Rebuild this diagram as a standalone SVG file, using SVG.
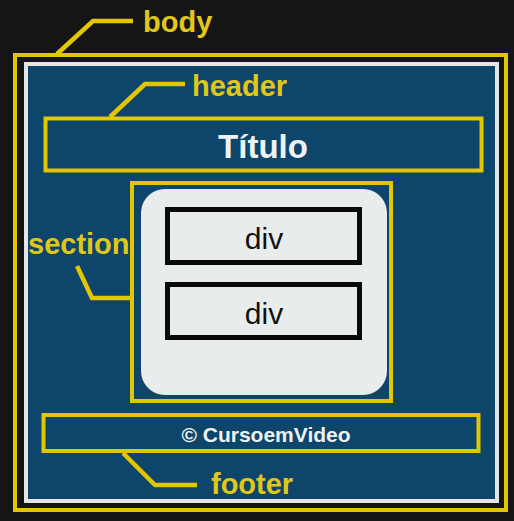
<svg xmlns="http://www.w3.org/2000/svg" width="514" height="521" viewBox="0 0 514 521">
<style>
.y{fill:none;stroke:#e2c700;stroke-width:4}
.lead{fill:none;stroke:#e2c700;stroke-width:4.5;stroke-linejoin:miter}
.lbl{font-family:"Liberation Sans",Arial,sans-serif;font-weight:bold;font-size:29px;fill:#e0c81a}
.w{font-family:"Liberation Sans",Arial,sans-serif;font-weight:bold;fill:#eef2f4;text-anchor:middle}
.dv{font-family:"Liberation Sans",Arial,sans-serif;font-size:30px;fill:#111;text-anchor:middle}
</style>
<rect x="0" y="0" width="514" height="521" fill="#151515"/>
<g id="body">
<rect x="15" y="55" width="491" height="455" class="y"/>
<rect x="26" y="64" width="471" height="437" fill="#0d456b" stroke="#e4e6e6" stroke-width="4"/>
<text x="143" y="32" class="lbl">body</text>
</g>
<g id="header">
<rect x="45.5" y="118.5" width="436" height="52" class="y"/>
<text x="263" y="158" class="w" font-size="33">Título</text>
<text x="192" y="96" class="lbl">header</text>
</g>
<g id="section">
<rect x="132" y="183" width="259" height="218" class="y"/>
<rect x="141" y="189" width="246" height="206" rx="24" fill="#e8ecec"/>
<text x="28" y="254" class="lbl">section</text>
</g>
<g id="div1">
<rect x="167.5" y="209.5" width="192" height="53" fill="none" stroke="#0a0a0a" stroke-width="5"/>
<text x="264" y="249" class="dv">div</text>
</g>
<g id="div2">
<rect x="167.5" y="284.5" width="192" height="53" fill="none" stroke="#0a0a0a" stroke-width="5"/>
<text x="264" y="324" class="dv">div</text>
</g>
<g id="footer">
<rect x="43.5" y="415" width="435" height="36" class="y"/>
<text x="266" y="442" class="w" font-size="21">© CursoemVideo</text>
<text x="211" y="494" class="lbl">footer</text>
</g>
<g id="connectors">
<polyline points="57,54 93,21 133,21" class="lead"/>
<polyline points="110,117 145,84 185,84" class="lead"/>
<polyline points="77,266 92,298 131,298" class="lead"/>
<polyline points="123,453 155,485 197,485" class="lead"/>
</g>
</svg>
